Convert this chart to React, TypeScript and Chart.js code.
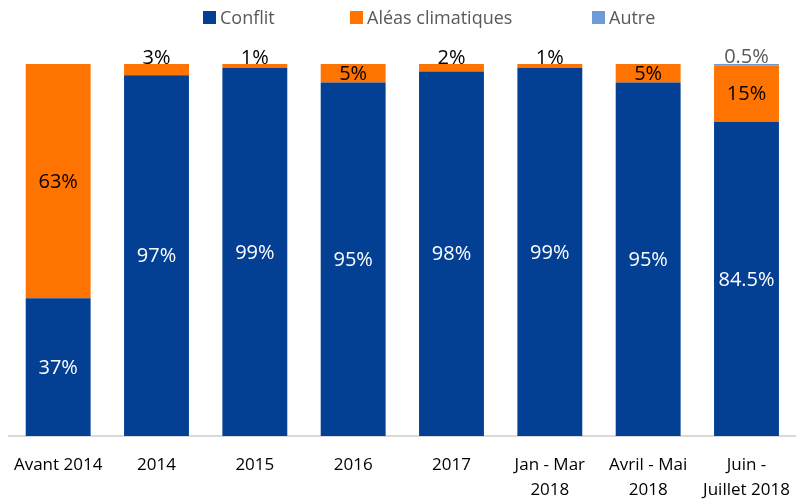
import React, { useEffect, useRef } from "react";
import { Chart, registerables } from "chart.js";

Chart.register(...registerables);

const categories: (string | string[])[] = [
  "Avant 2014",
  "2014",
  "2015",
  "2016",
  "2017",
  ["Jan - Mar", "2018"],
  ["Avril - Mai", "2018"],
  ["Juin -", "Juillet 2018"],
];
const conflit = [37, 97, 99, 95, 98, 99, 95, 84.5];
const aleas = [63, 3, 1, 5, 2, 1, 5, 15];
const autre = [0, 0, 0, 0, 0, 0, 0, 0.5];

const seriesNames = ["Conflit", "Aléas climatiques", "Autre"];
const colors = ["#033f93", "#ff7300", "#6d9bd6"];

const labelFont = "20px 'Open Sans', sans-serif";

const dataLabels = {
  id: "dataLabels",
  afterDatasetsDraw(chart: any) {
    const ctx = chart.ctx;
    ctx.save();
    ctx.font = labelFont;
    ctx.textAlign = "center";
    ctx.textBaseline = "middle";
    chart.data.datasets.forEach((ds: any, di: number) => {
      const meta = chart.getDatasetMeta(di);
      meta.data.forEach((bar: any, i: number) => {
        const v = ds.data[i];
        if (!v) return;
        const txt = `${v}%`;
        const top = Math.min(bar.y, bar.base);
        const bottom = Math.max(bar.y, bar.base);
        if (di === 0) {
          ctx.fillStyle = "#ffffff";
          ctx.fillText(txt, bar.x, (top + bottom) / 2 + 1);
        } else if (di === 1) {
          ctx.fillStyle = "#000000";
          if (v >= 5) ctx.fillText(txt, bar.x, (top + bottom) / 2 + 1);
          else ctx.fillText(txt, bar.x, top - 6);
        } else {
          ctx.fillStyle = "#595959";
          ctx.fillText(txt, bar.x, top - 7);
        }
      });
    });
    ctx.restore();
  },
};

const legendPos = [203, 350, 592];

export default function App() {
  const ref = useRef<HTMLCanvasElement>(null);
  useEffect(() => {
    document.body.style.margin = "0";
    const chart = new Chart(ref.current!, {
      type: "bar",
      data: {
        labels: categories,
        datasets: [conflit, aleas, autre].map((d, i) => ({
          label: seriesNames[i],
          data: d,
          backgroundColor: colors[i],
          categoryPercentage: 1,
          barPercentage: 0.66,
        })),
      },
      options: {
        responsive: false,
        animation: false,
        layout: { padding: { top: 64, left: 9, right: 2, bottom: 0 } },
        plugins: {
          legend: { display: false },
          tooltip: { enabled: false },
        },
        scales: {
          x: {
            stacked: true,
            grid: { display: false },
            border: { color: "#d9d9d9", width: 2 },
            afterFit(scale: any) {
              scale.height = 65;
            },
            ticks: {
              color: "#000000",
              padding: 9,
              maxRotation: 0,
              autoSkip: false,
              font: {
                family: "'Open Sans', sans-serif",
                size: 17,
                lineHeight: "25px",
              },
            },
          },
          y: {
            stacked: true,
            display: false,
            min: 0,
            max: 100,
          },
        },
      },
      plugins: [dataLabels],
    });
    return () => chart.destroy();
  }, []);

  return (
    <div style={{ position: "relative", width: 799, height: 501 }}>
      <canvas ref={ref} width={799} height={501} style={{ display: "block" }} />
      {seriesNames.map((n, i) => (
        <div
          key={n}
          style={{
            position: "absolute",
            left: legendPos[i],
            top: 5,
            display: "flex",
            alignItems: "center",
            fontFamily: "'Open Sans', sans-serif",
            fontSize: 18,
            color: "#595959",
            whiteSpace: "nowrap",
          }}
        >
          <span
            style={{
              display: "inline-block",
              width: 13,
              height: 13,
              background: colors[i],
              marginRight: 4,
            }}
          />
          {n}
        </div>
      ))}
    </div>
  );
}
